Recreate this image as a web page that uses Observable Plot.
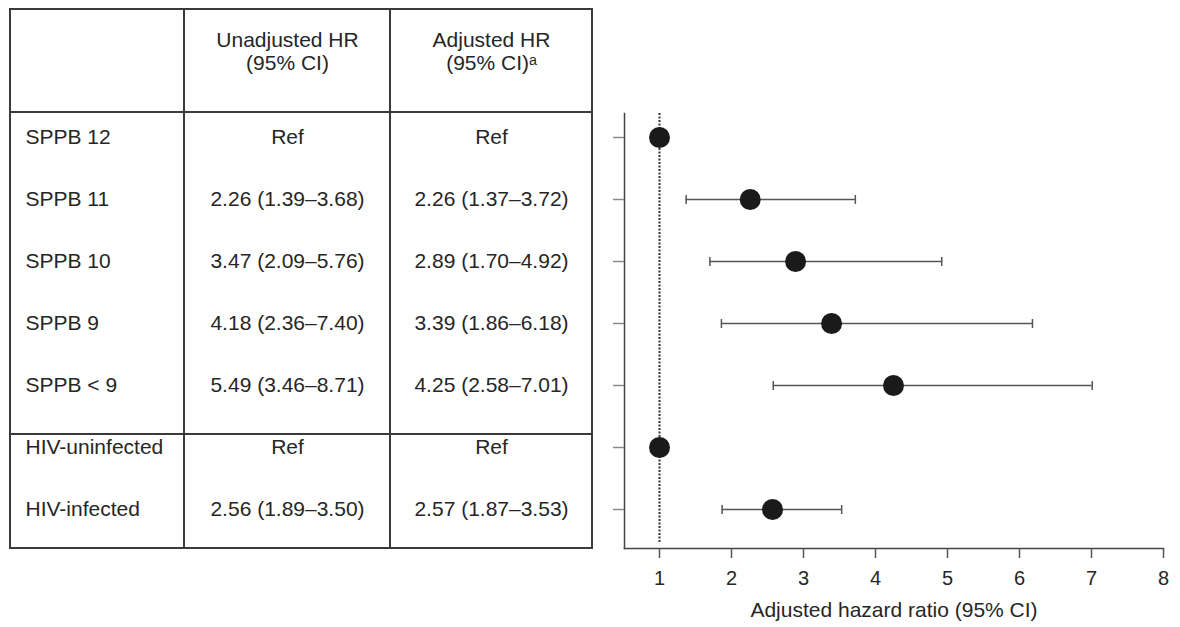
<!DOCTYPE html>
<html>
<head>
<meta charset="utf-8">
<script src="https://cdn.jsdelivr.net/npm/d3@7"></script>
<script src="https://cdn.jsdelivr.net/npm/@observablehq/plot@0.6"></script>
<style>
  body { margin: 0; background: #fff; }
  #wrap { position: relative; width: 1180px; height: 627px; font-family: 'Liberation Sans', Arial, sans-serif; }
  #wrap svg { position: absolute; left: 0; top: 0; }
  .ln { position: absolute; background: #3a3a3a; }
</style>
</head>
<body>
<div id="wrap"></div>
<script>
// ---- data ----
const rowLabels = ["SPPB 12", "SPPB 11", "SPPB 10", "SPPB 9", "SPPB < 9", "HIV-uninfected", "HIV-infected"];
const unadjHR   = [null, 2.26, 3.47, 4.18, 5.49, null, 2.56];
const unadjLow  = [null, 1.39, 2.09, 2.36, 3.46, null, 1.89];
const unadjHigh = [null, 3.68, 5.76, 7.40, 8.71, null, 3.50];
const adjHR     = [1, 2.26, 2.89, 3.39, 4.25, 1, 2.57];
const adjLow    = [null, 1.37, 1.70, 1.86, 2.58, null, 1.87];
const adjHigh   = [null, 3.72, 4.92, 6.18, 7.01, null, 3.53];
const columnHeaders = ["Unadjusted HR\n(95% CI)", "Adjusted HR\n(95% CI)\u1d43"];
const refText = "Ref";
const xTicks = [1, 2, 3, 4, 5, 6, 7, 8];
const xLabel = "Adjusted hazard ratio (95% CI)";

// ---- derived table ----
const fmt = (hr, lo, hi) => lo == null ? refText : `${hr.toFixed(2)} (${lo.toFixed(2)}\u2013${hi.toFixed(2)})`;
const rows = rowLabels.map((label, i) => ({
  label,
  unadj: fmt(unadjHR[i], unadjLow[i], unadjHigh[i]),
  adj: fmt(adjHR[i], adjLow[i], adjHigh[i]),
  hr: adjHR[i], lo: adjLow[i], hi: adjHigh[i]
}));
const ciRows = rows.filter(d => d.lo != null);

// vertical-bar symbol for CI caps
const capSymbol = {
  draw(context, size) {
    const h = Math.sqrt(size / Math.PI);
    context.moveTo(0, -h);
    context.lineTo(0, h);
  }
};

// ---- layout ----
const W = 1180, H = 627;
const fL = 624, fR = 1163, fT = 113, fB = 548;
const colX = [25, 287, 491];
const fontSize = 21;
const ink = "#262626";

const plot = Plot.plot({
  width: W, height: H,
  marginLeft: fL, marginRight: W - fR, marginTop: fT, marginBottom: H - fB,
  insetLeft: 35, insetTop: 23, insetBottom: 38,
  x: {domain: [1, 8]},
  y: {type: "point", domain: rowLabels, padding: 0},
  style: {fontFamily: "'Liberation Sans', Arial, sans-serif", background: "transparent", color: ink, overflow: "visible"},
  marks: [
    Plot.frame({anchor: "left", stroke: "#444", strokeWidth: 1.5}),
    Plot.frame({anchor: "bottom", stroke: "#444", strokeWidth: 1.5}),
    Plot.axisX({ticks: xTicks, tickFormat: "d", tickSize: 10, tickPadding: 12, fontSize: 20, label: null, stroke: "#555", strokeWidth: 1.5, fill: ink}),
    Plot.axisY({tickSize: 11, tickFormat: () => "", label: null, stroke: "#888", strokeWidth: 1.5}),
    Plot.ruleX([1], {stroke: "#333", strokeWidth: 2, strokeDasharray: "2,1.5", insetBottom: 5}),
    Plot.ruleY(ciRows, {y: "label", x1: "lo", x2: "hi", stroke: "#555", strokeWidth: 1.5}),
    Plot.dot(ciRows, {y: "label", x: "lo", symbol: capSymbol, r: 4.5, fill: "none", stroke: "#555", strokeWidth: 1.5}),
    Plot.dot(ciRows, {y: "label", x: "hi", symbol: capSymbol, r: 4.5, fill: "none", stroke: "#555", strokeWidth: 1.5}),
    Plot.dot(rows, {x: "hr", y: "label", r: 10.5, fill: "#1a1a1a"}),
    // table body text
    Plot.text(rows, {y: "label", text: "label", frameAnchor: "left", dx: colX[0] - fL, textAnchor: "start", fontSize, fill: ink}),
    Plot.text(rows, {y: "label", text: "unadj", frameAnchor: "left", dx: colX[1] - fL, textAnchor: "middle", fontSize, fill: ink}),
    Plot.text(rows, {y: "label", text: "adj", frameAnchor: "left", dx: colX[2] - fL, textAnchor: "middle", fontSize, fill: ink}),
    // table header
    Plot.text([columnHeaders[0]], {frameAnchor: "top-left", dx: colX[1] - fL, dy: 51 - fT, lineAnchor: "middle", lineHeight: 1.08, textAnchor: "middle", fontSize, fill: ink}),
    Plot.text([columnHeaders[1]], {frameAnchor: "top-left", dx: colX[2] - fL, dy: 51 - fT, lineAnchor: "middle", lineHeight: 1.08, textAnchor: "middle", fontSize, fill: ink}),
    // x-axis title
    Plot.text([xLabel], {frameAnchor: "bottom", dy: 62, lineAnchor: "middle", textAnchor: "middle", fontSize: 21, fill: ink})
  ]
});

const wrap = document.getElementById("wrap");
wrap.appendChild(plot);

// table grid lines
const lines = [
  [9, 8, 584, 2],     // top
  [9, 547, 584, 2],   // bottom
  [9, 8, 2, 541],     // left
  [591, 8, 2, 541],   // right
  [183, 8, 2, 541],   // col 1
  [389, 8, 2, 541],   // col 2
  [9, 111, 584, 2],   // header rule
  [9, 433, 584, 2]    // group rule
];
for (const [l, t, w, h] of lines) {
  const d = document.createElement("div");
  d.className = "ln";
  Object.assign(d.style, {left: l + "px", top: t + "px", width: w + "px", height: h + "px"});
  wrap.appendChild(d);
}
</script>
</body>
</html>
